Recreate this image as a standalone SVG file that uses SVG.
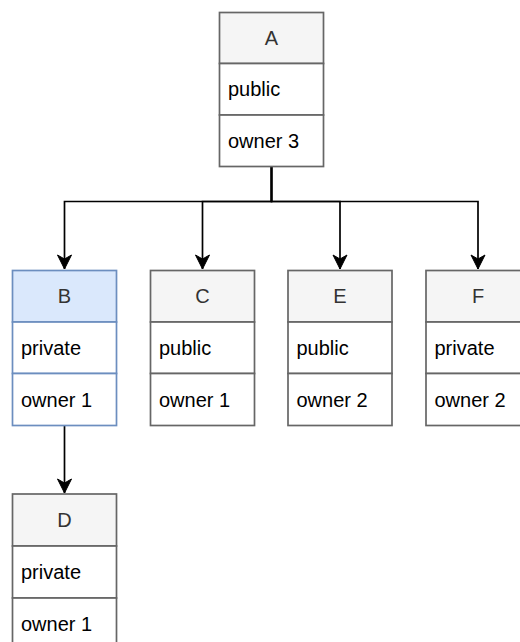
<svg xmlns="http://www.w3.org/2000/svg" width="520" height="642" viewBox="0 0 520 642">
  <style>
    .box { fill: #ffffff; stroke: #666666; stroke-width: 1.7; }
    .head { fill: #f5f5f5; stroke: #666666; stroke-width: 1.7; }
    .sel .box { stroke: #6c8ebf; }
    .sel .head { fill: #dae8fc; stroke: #6c8ebf; }
    text { font-family: "Liberation Sans", Arial, sans-serif; font-size: 20px; fill: #000000; }
    .title { text-anchor: middle; fill: #333333; }
    .edge { fill: none; stroke: #000000; stroke-width: 1.7; }
  </style>
  <defs>
    <marker id="arrow" markerUnits="userSpaceOnUse" markerWidth="16" markerHeight="16" viewBox="0 0 16 16" refX="15" refY="8" orient="auto">
      <path d="M1,1 L15,8 L1,15 L5,8 Z" fill="#000000" stroke="#000000" stroke-width="1"/>
    </marker>
  </defs>

  <rect width="520" height="642" fill="#ffffff"/>

  <!-- connectors -->
  <g id="connectors">
    <path class="edge" d="M271.5,166.5 V201.5 H64.5 V269" marker-end="url(#arrow)"/>
    <path class="edge" d="M271.5,166.5 V201.5 H202.5 V269" marker-end="url(#arrow)"/>
    <path class="edge" d="M271.5,166.5 V201.5 H340 V269" marker-end="url(#arrow)"/>
    <path class="edge" d="M271.5,166.5 V201.5 H478 V269" marker-end="url(#arrow)"/>
    <path class="edge" d="M64.5,425.5 V493" marker-end="url(#arrow)"/>
  </g>

  <!-- A -->
  <g id="node-A">
    <rect class="head" x="219.5" y="12.5" width="104" height="51"/>
    <rect class="box" x="219.5" y="63.5" width="104" height="51.5"/>
    <rect class="box" x="219.5" y="115" width="104" height="51.5"/>
    <text class="title" x="271.5" y="45">A</text>
    <text x="228" y="96">public</text>
    <text x="228" y="148">owner 3</text>
  </g>

  <!-- B -->
  <g id="node-B" class="sel">
    <rect class="head" x="12.5" y="270.5" width="104" height="51.5"/>
    <rect class="box" x="12.5" y="322" width="104" height="51.5"/>
    <rect class="box" x="12.5" y="373.5" width="104" height="52"/>
    <text class="title" x="64.5" y="303">B</text>
    <text x="21" y="355">private</text>
    <text x="21" y="407">owner 1</text>
  </g>

  <!-- C -->
  <g id="node-C">
    <rect class="head" x="150.5" y="270.5" width="104" height="51.5"/>
    <rect class="box" x="150.5" y="322" width="104" height="51.5"/>
    <rect class="box" x="150.5" y="373.5" width="104" height="52"/>
    <text class="title" x="202.5" y="303">C</text>
    <text x="159" y="355">public</text>
    <text x="159" y="407">owner 1</text>
  </g>

  <!-- E -->
  <g id="node-E">
    <rect class="head" x="288" y="270.5" width="104" height="51.5"/>
    <rect class="box" x="288" y="322" width="104" height="51.5"/>
    <rect class="box" x="288" y="373.5" width="104" height="52"/>
    <text class="title" x="340" y="303">E</text>
    <text x="296.5" y="355">public</text>
    <text x="296.5" y="407">owner 2</text>
  </g>

  <!-- F -->
  <g id="node-F">
    <rect class="head" x="426" y="270.5" width="104" height="51.5"/>
    <rect class="box" x="426" y="322" width="104" height="51.5"/>
    <rect class="box" x="426" y="373.5" width="104" height="52"/>
    <text class="title" x="478" y="303">F</text>
    <text x="434.5" y="355">private</text>
    <text x="434.5" y="407">owner 2</text>
  </g>

  <!-- D -->
  <g id="node-D">
    <rect class="head" x="12.5" y="494" width="104" height="52"/>
    <rect class="box" x="12.5" y="546" width="104" height="52"/>
    <rect class="box" x="12.5" y="598" width="104" height="52"/>
    <text class="title" x="64.5" y="527">D</text>
    <text x="21" y="579">private</text>
    <text x="21" y="631">owner 1</text>
  </g>
</svg>
